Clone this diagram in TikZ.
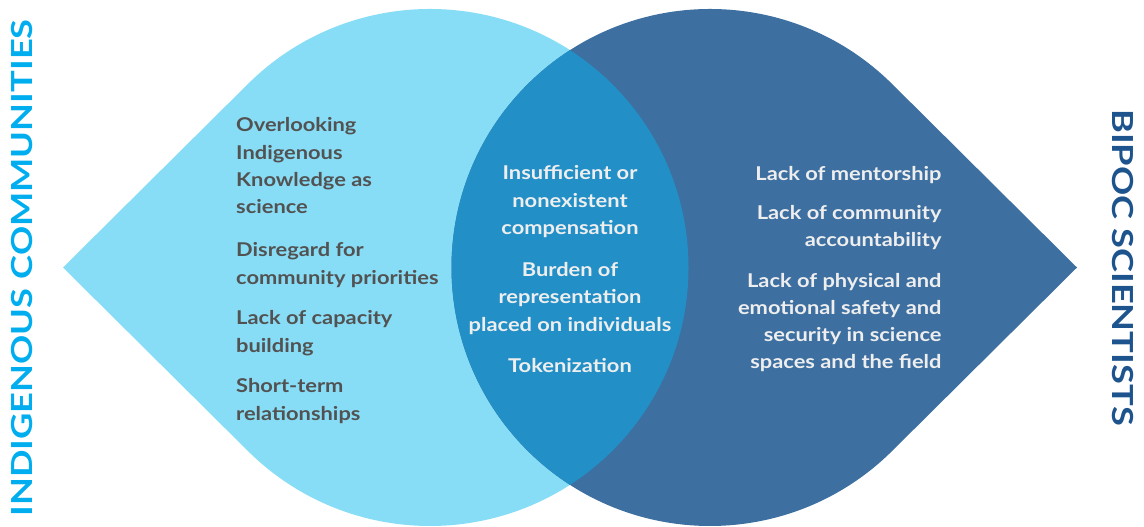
\documentclass[tikz,border=0pt]{standalone}
\usepackage{fontspec}
\setmainfont{Lato}
\newfontfamily\bodyfont{Lato}[FakeStretch=1.15]
\newfontfamily\labelfont{Lato}[FakeStretch=1.25]
\definecolor{leftfill}{RGB}{136,221,246}
\definecolor{rightfill}{RGB}{61,111,160}
\definecolor{midfill}{RGB}{34,144,199}
\definecolor{leftlabel}{RGB}{0,174,239}
\definecolor{rightlabel}{RGB}{30,84,142}
\definecolor{darktext}{RGB}{82,82,82}
\definecolor{lighttext}{RGB}{238,238,238}
\begin{document}
\begin{tikzpicture}[x=1pt,y=-1pt,
  body/.style={inner sep=0pt,font=\bodyfont\bfseries\fontsize{19}{27.2}\selectfont},
  lefttxt/.style={body,text=darktext,align=left,anchor=base west},
  midtxt/.style={body,text=lighttext,align=center,anchor=base},
  righttxt/.style={body,text=lighttext,align=right,anchor=base east},
  sidelabel/.style={inner sep=0pt,font=\labelfont\bfseries\fontsize{29}{29}\selectfont}]
\useasboundingbox (0,0) rectangle (1144,527);
% shapes
\fill[leftfill] (63,267.5) -- (247.2,84.7) arc[start angle=225,end angle=495,radius=258.5] -- cycle;
\fill[rightfill] (1077,267.5) -- (892.8,84.7) arc[start angle=-45,end angle=-315,radius=258.5] -- cycle;
\begin{scope}
  \clip (430,267.5) circle[radius=258.5];
  \fill[midfill] (710,267.5) circle[radius=258.5];
\end{scope}
% left texts (anchor = baseline of last line)
\node[lefttxt] (l1) at (236,213.5) {Overlooking\\Indigenous\\Knowledge as\\science};
\node[lefttxt] (l2) at (236,284) {Disregard for\\community priorities};
\node[lefttxt] (l3) at (236,352) {Lack of capacity\\building};
\node[lefttxt] (l4) at (236,420) {Short-term\\relationships};
% middle texts
\node[midtxt] (m1) at (570,234.3) {Insufficient or\\nonexistent\\compensation};
\node[midtxt] (m2) at (570,331) {Burden of\\representation\\placed on individuals};
\node[midtxt] (m3) at (570,372) {Tokenization};
% right texts
\node[righttxt] (r1) at (941.7,180.3) {Lack of mentorship};
\node[righttxt] (r2) at (941.7,246.3) {Lack of community\\accountability};
\node[righttxt] (r3) at (941.7,368.7) {Lack of physical and\\emotional safety and\\security in science\\spaces and the field};
% side labels
\node[sidelabel,text=leftlabel,rotate=90] (ttl) at (22,268) {INDIGENOUS COMMUNITIES};
\node[sidelabel,text=rightlabel,rotate=-90] (ttr) at (1122.5,267.5) {BIPOC SCIENTISTS};
\end{tikzpicture}
\end{document}
